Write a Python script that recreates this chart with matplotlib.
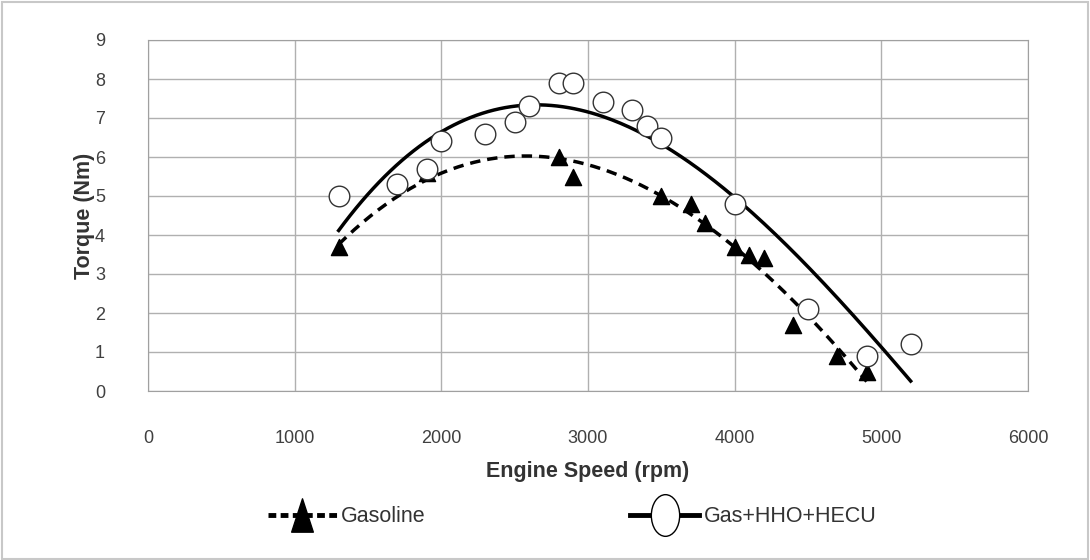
import numpy as np
import matplotlib.pyplot as plt
from matplotlib.patches import Rectangle
from matplotlib.path import Path
from matplotlib.transforms import Affine2D

# 데이터
gas_rpm = [1300, 1900, 2800, 2900, 3500, 3700, 3800, 4000, 4100, 4200, 4400, 4700, 4900]
gas_torque = [3.7, 5.6, 6.0, 5.5, 5.0, 4.8, 4.3, 3.7, 3.5, 3.4, 1.7, 0.9, 0.5]

hho_rpm = [1300, 1700, 1900, 2000, 2300, 2500, 2600, 2800, 2900, 3100, 3300, 3400,
           3500, 4000, 4500, 4900, 5200]
hho_torque = [5.0, 5.3, 5.7, 6.4, 6.6, 6.9, 7.3, 7.9, 7.9, 7.4, 7.2, 6.8,
              6.5, 4.8, 2.1, 0.9, 1.2]

x_ticks = [0, 1000, 2000, 3000, 4000, 5000, 6000]
y_ticks = list(range(10))


def main():
    plt.rcParams['font.family'] = ['Liberation Sans', 'DejaVu Sans']
    fig = plt.figure(figsize=(10.9, 5.6), dpi=100)
    ax = fig.add_axes([148 / 1090, 1 - 391 / 560, 880 / 1090, 351 / 560])

    # 다항식 추세선 (3차)
    gx = np.linspace(min(gas_rpm), max(gas_rpm), 200)
    gfit = np.polyval(np.polyfit(gas_rpm, gas_torque, 3), gx)
    hx = np.linspace(min(hho_rpm), max(hho_rpm), 200)
    hfit = np.polyval(np.polyfit(hho_rpm, hho_torque, 3), hx)

    ax.plot(gx, gfit, color='black', lw=2.5, ls=(0, (3, 2)), zorder=3)
    ax.plot(hx, hfit, color='black', lw=2.5, zorder=3)
    ax.scatter(gas_rpm, gas_torque, marker='^', s=135, color='black', zorder=4)
    ax.scatter(hho_rpm, hho_torque, marker='o', s=220, facecolor='white',
               edgecolor='#333333', linewidth=1.0, zorder=4)

    ax.set_xlim(0, 6000)
    ax.set_ylim(0, 9)
    ax.set_xticks(x_ticks)
    ax.set_yticks(y_ticks)
    ax.grid(True, color='#b0b0b0', lw=1.0)
    ax.set_axisbelow(True)
    for s in ax.spines.values():
        s.set_color('#a0a0a0')
    ax.tick_params(length=0, labelsize=13, colors='#404040')
    ax.tick_params(axis='y', pad=31)
    ax.tick_params(axis='x', pad=28)
    ax.set_xlabel('Engine Speed (rpm)', fontsize=15.5, fontweight='bold', color='#333333', labelpad=10)
    ax.set_ylabel('Torque (Nm)', fontsize=15.5, fontweight='bold', color='#333333', labelpad=0)

    # 범례 (세로로 긴 마커)
    tri = Path([(-0.65, -1), (0.65, -1), (0, 1), (-0.65, -1)], closed=True)
    ell = Path.unit_circle().transformed(Affine2D().scale(0.68, 1.0))
    h1 = plt.Line2D([], [], color='black', lw=3.5, ls=(0, (1.6, 0.9)), marker=tri,
                    markersize=24, markerfacecolor='black', markeredgecolor='black')
    h2 = plt.Line2D([], [], color='black', lw=3.5, marker=ell, markersize=30,
                    markerfacecolor='white', markeredgecolor='black', markeredgewidth=1)
    fig.legend([h1, h2], ['Gasoline', 'Gas+HHO+HECU'], loc='center',
               bbox_to_anchor=(572 / 1090, 1 - 517 / 560), ncol=2, frameon=False,
               fontsize=15.5, handlelength=3.2, handletextpad=0.2, columnspacing=9.5,
               labelcolor='#333333')

    fig.patches.append(Rectangle((0.002, 0.002), 0.996, 0.994, transform=fig.transFigure,
                                 fill=False, edgecolor='#c8c8c8', lw=1.5))
    fig.savefig('out.png', dpi=100)


if __name__ == "__main__":
    main()
